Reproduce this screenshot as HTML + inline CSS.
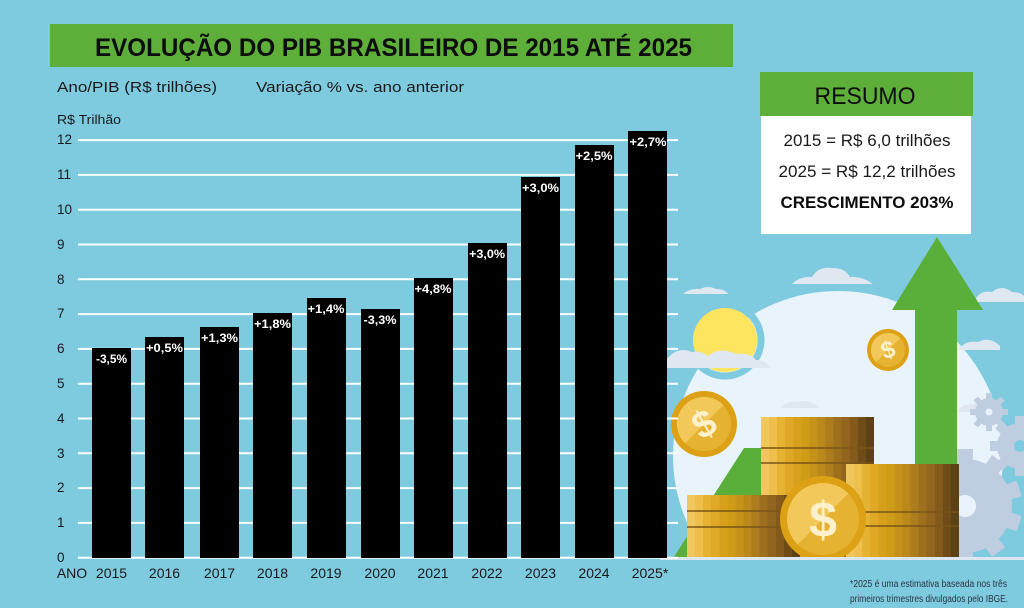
<!DOCTYPE html>
<html><head><meta charset="utf-8"><style>
html,body{margin:0;padding:0;background:#7ecadf;}
svg{display:block;}
text{font-family:"Liberation Sans",sans-serif;}
</style></head><body>
<svg width="1024" height="608" viewBox="0 0 1024 608" xmlns="http://www.w3.org/2000/svg">
<defs>
<linearGradient id="gold" x1="0" y1="0" x2="1" y2="0">
<stop offset="0" stop-color="#f0c65e"/><stop offset="0.071" stop-color="#f0c65e"/>
<stop offset="0.071" stop-color="#eebf4c"/><stop offset="0.143" stop-color="#eebf4c"/>
<stop offset="0.143" stop-color="#e6b232"/><stop offset="0.214" stop-color="#e6b232"/>
<stop offset="0.214" stop-color="#e0a925"/><stop offset="0.286" stop-color="#e0a925"/>
<stop offset="0.286" stop-color="#d7a01a"/><stop offset="0.357" stop-color="#d7a01a"/>
<stop offset="0.357" stop-color="#cf9c16"/><stop offset="0.429" stop-color="#cf9c16"/>
<stop offset="0.429" stop-color="#c79219"/><stop offset="0.5" stop-color="#c79219"/>
<stop offset="0.5" stop-color="#bb881b"/><stop offset="0.571" stop-color="#bb881b"/>
<stop offset="0.571" stop-color="#ad7d1d"/><stop offset="0.643" stop-color="#ad7d1d"/>
<stop offset="0.643" stop-color="#9e701e"/><stop offset="0.714" stop-color="#9e701e"/>
<stop offset="0.714" stop-color="#91651e"/><stop offset="0.786" stop-color="#91651e"/>
<stop offset="0.786" stop-color="#84591c"/><stop offset="0.857" stop-color="#84591c"/>
<stop offset="0.857" stop-color="#6f4b18"/><stop offset="0.929" stop-color="#6f4b18"/>
<stop offset="0.929" stop-color="#5c4016"/><stop offset="1" stop-color="#5c4016"/>
</linearGradient>
<linearGradient id="coinface" x1="0" y1="0" x2="1" y2="1">
<stop offset="0" stop-color="#f3c85a"/><stop offset="0.5" stop-color="#f3c85a"/>
<stop offset="0.5" stop-color="#e6b232"/><stop offset="1" stop-color="#e6b232"/>
</linearGradient>
<clipPath id="ground"><rect x="0" y="0" width="1024" height="558"/></clipPath>
</defs>

<rect x="0" y="0" width="1024" height="608" fill="#7ecadf"/>

<!-- Illustration -->
<g clip-path="url(#ground)">
  <circle cx="838" cy="456" r="165" fill="#e9f3fb"/>
  <g fill="#dfe7f1">
    <path d="M683 294 Q690 288 700 289 Q708 285 716 289 Q725 289 728 294 Z"/>
    <path d="M792 284 Q800 276 812 277 Q818 266 833 268 Q845 268 850 277 Q862 276 873 284 Z"/>
    <path d="M975 300 Q980 290 992 292 Q1002 284 1012 292 Q1020 292 1024 296 L1024 302 L975 302 Z"/>
    <path d="M958 350 Q965 340 978 342 Q990 336 1000 346 L1000 350 Z"/>
    <path d="M957 412 Q962 403 972 405 Q982 398 990 406 L992 412 Z"/>
    <path d="M780 408 Q788 400 798 402 Q808 398 820 408 Z"/>
  </g>
  <circle cx="725" cy="340" r="36" fill="none" stroke="#7ecadf" stroke-width="7"/>
  <circle cx="725" cy="340" r="32" fill="#fde55f"/>
  <path d="M648 368 Q655 355 668 358 Q678 346 692 352 Q700 350 708 356 Q720 346 736 354 Q750 352 756 360 Q766 360 770 368 Z" fill="#dfe7f1"/>
  <g fill="#bfcde0">
    <g transform="translate(965,506)">
      <circle r="47"/>
      <rect x="-8" y="-57" width="16" height="14"/>
      <rect x="-8" y="-57" width="16" height="14" transform="rotate(36)"/>
      <rect x="-8" y="-57" width="16" height="14" transform="rotate(72)"/>
      <rect x="-8" y="-57" width="16" height="14" transform="rotate(108)"/>
      <rect x="-8" y="-57" width="16" height="14" transform="rotate(144)"/>
      <rect x="-8" y="-57" width="16" height="14" transform="rotate(180)"/>
      <rect x="-8" y="-57" width="16" height="14" transform="rotate(216)"/>
      <rect x="-8" y="-57" width="16" height="14" transform="rotate(252)"/>
      <rect x="-8" y="-57" width="16" height="14" transform="rotate(288)"/>
      <rect x="-8" y="-57" width="16" height="14" transform="rotate(324)"/>
      <circle r="11" fill="#e9f3fb"/>
    </g>
    <g transform="translate(1020,446)">
      <circle r="23"/>
      <rect x="-5" y="-30" width="10" height="9"/>
      <rect x="-5" y="-30" width="10" height="9" transform="rotate(45)"/>
      <rect x="-5" y="-30" width="10" height="9" transform="rotate(90)"/>
      <rect x="-5" y="-30" width="10" height="9" transform="rotate(135)"/>
      <rect x="-5" y="-30" width="10" height="9" transform="rotate(180)"/>
      <rect x="-5" y="-30" width="10" height="9" transform="rotate(225)"/>
      <rect x="-5" y="-30" width="10" height="9" transform="rotate(270)"/>
      <rect x="-5" y="-30" width="10" height="9" transform="rotate(315)"/>
      <circle r="6" fill="#7ecadf"/>
    </g>
    <g transform="translate(989,412)">
      <circle r="14"/>
      <rect x="-3" y="-19" width="6" height="7"/>
      <rect x="-3" y="-19" width="6" height="7" transform="rotate(45)"/>
      <rect x="-3" y="-19" width="6" height="7" transform="rotate(90)"/>
      <rect x="-3" y="-19" width="6" height="7" transform="rotate(135)"/>
      <rect x="-3" y="-19" width="6" height="7" transform="rotate(180)"/>
      <rect x="-3" y="-19" width="6" height="7" transform="rotate(225)"/>
      <rect x="-3" y="-19" width="6" height="7" transform="rotate(270)"/>
      <rect x="-3" y="-19" width="6" height="7" transform="rotate(315)"/>
      <circle r="3.5" fill="#e9f3fb"/>
    </g>
  </g>
  <polygon points="672,560 744,448 800,448 800,560" fill="#5aaf3b"/>
  <rect x="915" y="308" width="42" height="252" fill="#5aaf3b"/>
  <polygon points="937,237 983,310 892,310" fill="#5aaf3b"/>

  <rect x="761" y="417" width="113" height="141" fill="url(#gold)"/>
  <line x1="761" y1="448" x2="874" y2="448" stroke="#7a5418" stroke-width="1.5"/>
  <line x1="761" y1="463" x2="874" y2="463" stroke="#7a5418" stroke-width="1.5"/>
  <rect x="687" y="495" width="113" height="63" fill="url(#gold)"/>
  <line x1="687" y1="511" x2="800" y2="511" stroke="#7a5418" stroke-width="1.5"/>
  <line x1="687" y1="527" x2="800" y2="527" stroke="#7a5418" stroke-width="1.5"/>
  <rect x="846" y="464" width="113" height="94" fill="url(#gold)"/>
  <line x1="846" y1="512" x2="959" y2="512" stroke="#7a5418" stroke-width="1.5"/>
  <line x1="846" y1="526" x2="959" y2="526" stroke="#7a5418" stroke-width="1.5"/>

  <g>
    <circle cx="823" cy="519" r="43" fill="#dca114"/>
    <circle cx="823" cy="519" r="36" fill="url(#coinface)"/>
    <text x="823" y="537" font-size="50" font-weight="bold" fill="#fdf1cc" text-anchor="middle">$</text>
  </g>
</g>

<g>
  <circle cx="704" cy="424" r="33" fill="#dca114"/>
  <circle cx="704" cy="424" r="27" fill="url(#coinface)"/>
  <text x="704" y="437" font-size="38" font-weight="bold" fill="#fdf1cc" text-anchor="middle" transform="rotate(-30 704 424)">$</text>
</g>
<g>
  <circle cx="888" cy="350" r="21" fill="#dca114"/>
  <circle cx="888" cy="350" r="17" fill="url(#coinface)"/>
  <text x="888" y="358" font-size="24" font-weight="bold" fill="#fdf1cc" text-anchor="middle" transform="rotate(-20 888 350)">$</text>
</g>

<rect x="660" y="557" width="364" height="3" fill="#dce7ef"/>

<!-- Title -->
<rect x="50" y="24" width="683" height="43" fill="#5daf3a"/>
<text x="95" y="56" font-size="25" font-weight="bold" fill="#0d0d0d" textLength="597" lengthAdjust="spacingAndGlyphs">EVOLUÇÃO DO PIB BRASILEIRO DE 2015 ATÉ 2025</text>

<text x="57" y="92" font-size="15" fill="#1a1a1a" textLength="160" lengthAdjust="spacingAndGlyphs">Ano/PIB (R$ trilhões)</text>
<text x="256" y="92" font-size="15" fill="#1a1a1a" textLength="208" lengthAdjust="spacingAndGlyphs">Variação % vs. ano anterior</text>
<text x="57" y="124" font-size="12.5" fill="#1a1a1a" textLength="64" lengthAdjust="spacingAndGlyphs">R$ Trilhão</text>

<g stroke="#ffffff" stroke-width="2">
  <line x1="78" y1="557.7" x2="678" y2="557.7"/>
  <line x1="78" y1="522.9" x2="678" y2="522.9"/>
  <line x1="78" y1="488.1" x2="678" y2="488.1"/>
  <line x1="78" y1="453.3" x2="678" y2="453.3"/>
  <line x1="78" y1="418.5" x2="678" y2="418.5"/>
  <line x1="78" y1="383.7" x2="678" y2="383.7"/>
  <line x1="78" y1="348.9" x2="678" y2="348.9"/>
  <line x1="78" y1="314.1" x2="678" y2="314.1"/>
  <line x1="78" y1="279.3" x2="678" y2="279.3"/>
  <line x1="78" y1="244.5" x2="678" y2="244.5"/>
  <line x1="78" y1="209.7" x2="678" y2="209.7"/>
  <line x1="78" y1="174.9" x2="678" y2="174.9"/>
  <line x1="78" y1="140.1" x2="678" y2="140.1"/>
</g>
<g font-size="13.5" fill="#1a1a1a">
  <text x="57" y="562">0</text>
  <text x="57" y="527">1</text>
  <text x="57" y="492">2</text>
  <text x="57" y="458">3</text>
  <text x="57" y="423">4</text>
  <text x="57" y="388">5</text>
  <text x="57" y="353">6</text>
  <text x="57" y="318">7</text>
  <text x="57" y="284">8</text>
  <text x="57" y="249">9</text>
  <text x="57" y="214">10</text>
  <text x="57" y="179">11</text>
  <text x="57" y="144">12</text>
</g>

<g fill="#000000">
  <rect x="92" y="348" width="39" height="210"/>
  <rect x="145" y="337" width="39" height="221"/>
  <rect x="200" y="327" width="39" height="231"/>
  <rect x="253" y="313" width="39" height="245"/>
  <rect x="307" y="298" width="39" height="260"/>
  <rect x="361" y="309" width="39" height="249"/>
  <rect x="414" y="278" width="39" height="280"/>
  <rect x="468" y="243" width="39" height="315"/>
  <rect x="521" y="177" width="39" height="381"/>
  <rect x="575" y="145" width="39" height="413"/>
  <rect x="628" y="131" width="39" height="427"/>
</g>
<g font-size="12" font-weight="bold" fill="#ffffff" text-anchor="middle">
  <text x="111.5" y="363" textLength="31" lengthAdjust="spacingAndGlyphs">-3,5%</text>
  <text x="164.5" y="352" textLength="37" lengthAdjust="spacingAndGlyphs">+0,5%</text>
  <text x="219.5" y="342" textLength="37" lengthAdjust="spacingAndGlyphs">+1,3%</text>
  <text x="272.5" y="328" textLength="37" lengthAdjust="spacingAndGlyphs">+1,8%</text>
  <text x="326" y="313" textLength="37" lengthAdjust="spacingAndGlyphs">+1,4%</text>
  <text x="380" y="324" textLength="33" lengthAdjust="spacingAndGlyphs">-3,3%</text>
  <text x="433" y="293" textLength="37" lengthAdjust="spacingAndGlyphs">+4,8%</text>
  <text x="487" y="258" textLength="36" lengthAdjust="spacingAndGlyphs">+3,0%</text>
  <text x="540.5" y="192" textLength="37" lengthAdjust="spacingAndGlyphs">+3,0%</text>
  <text x="594" y="160" textLength="37" lengthAdjust="spacingAndGlyphs">+2,5%</text>
  <text x="648" y="146" textLength="37" lengthAdjust="spacingAndGlyphs">+2,7%</text>
</g>

<g font-size="14" fill="#1a1a1a" text-anchor="middle">
  <text x="72" y="578">ANO</text>
  <text x="111.5" y="578">2015</text>
  <text x="164.5" y="578">2016</text>
  <text x="219.5" y="578">2017</text>
  <text x="272.5" y="578">2018</text>
  <text x="326" y="578">2019</text>
  <text x="380" y="578">2020</text>
  <text x="433" y="578">2021</text>
  <text x="487" y="578">2022</text>
  <text x="540.5" y="578">2023</text>
  <text x="594" y="578">2024</text>
  <text x="650" y="578">2025*</text>
</g>

<rect x="760" y="72" width="213" height="44" fill="#5daf3a"/>
<rect x="761" y="116" width="210" height="118" fill="#ffffff"/>
<text x="865" y="104" font-size="24" fill="#0d0d0d" text-anchor="middle" textLength="101" lengthAdjust="spacingAndGlyphs">RESUMO</text>
<text x="867" y="146" font-size="17" fill="#1a1a1a" text-anchor="middle" textLength="167" lengthAdjust="spacingAndGlyphs">2015 = R$ 6,0 trilhões</text>
<text x="867" y="177" font-size="17" fill="#1a1a1a" text-anchor="middle" textLength="177" lengthAdjust="spacingAndGlyphs">2025 = R$ 12,2 trilhões</text>
<text x="867" y="208" font-size="17" font-weight="bold" fill="#0d0d0d" text-anchor="middle" textLength="173" lengthAdjust="spacingAndGlyphs">CRESCIMENTO 203%</text>

<text x="850" y="587" font-size="10" fill="#2a3540" textLength="157" lengthAdjust="spacingAndGlyphs">*2025 é uma estimativa baseada nos três</text>
<text x="850" y="602" font-size="10" fill="#2a3540" textLength="158" lengthAdjust="spacingAndGlyphs">primeiros trimestres divulgados pelo IBGE.</text>
</svg>
</body></html>
